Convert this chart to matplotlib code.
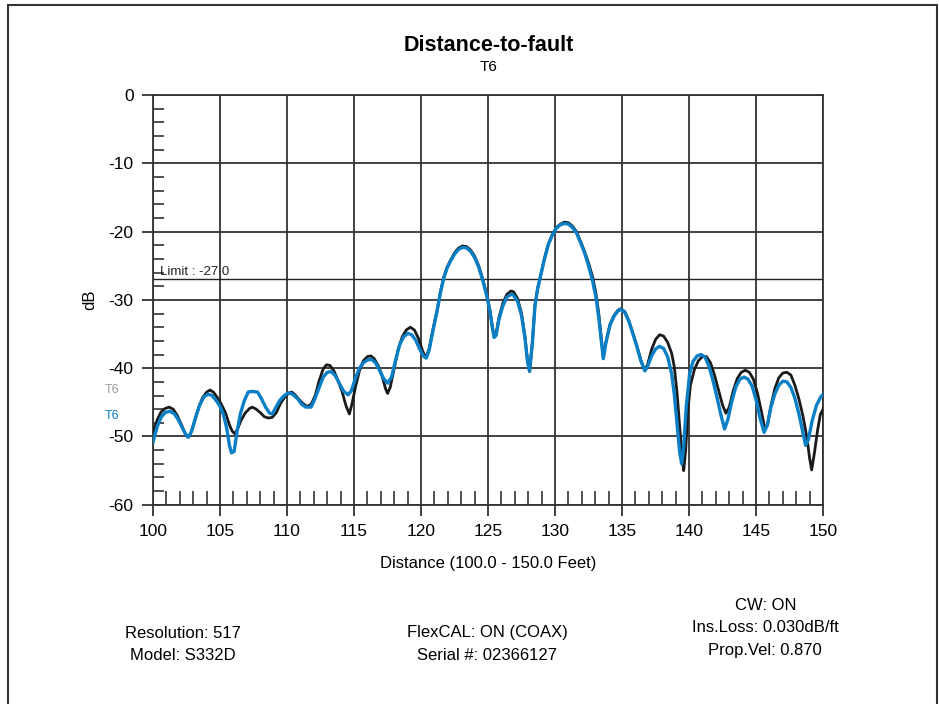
import matplotlib.pyplot as plt
from matplotlib.patches import Rectangle
from matplotlib.ticker import MultipleLocator

plt.rcParams['font.family'] = ['Liberation Sans', 'DejaVu Sans']
plt.rcParams['axes.unicode_minus'] = False

# distance (ft) / return loss (dB), black trace
dist_black = [100.0, 100.3, 100.6, 100.9, 101.2, 101.5, 101.8, 102.1, 102.4, 102.6,
              102.8, 103.1, 103.4, 103.7, 104.0, 104.25, 104.5, 104.8, 105.1, 105.4,
              105.7, 105.9, 106.1, 106.3, 106.6, 106.9, 107.2, 107.4, 107.7, 108.0,
              108.3, 108.6, 108.9, 109.2, 109.5, 109.8, 110.1, 110.35, 110.6, 110.9,
              111.2, 111.5, 111.8, 112.1, 112.4, 112.7, 112.95, 113.2, 113.5, 113.8,
              114.1, 114.4, 114.65, 114.85, 115.1, 115.4, 115.7, 116.0, 116.25, 116.5,
              116.8, 117.1, 117.35, 117.5, 117.7, 118.0, 118.3, 118.6, 118.9, 119.2,
              119.5, 119.8, 120.1, 120.35, 120.6, 120.9, 121.2, 121.45, 121.7, 121.95,
              122.2, 122.5, 122.8, 123.1, 123.4, 123.7, 124.0, 124.3, 124.6, 124.9,
              125.15, 125.3, 125.45, 125.6, 125.8, 126.1, 126.4, 126.7, 126.9, 127.2,
              127.5, 127.75, 127.95, 128.1, 128.3, 128.5, 128.7, 128.9, 129.2, 129.5,
              129.8, 130.1, 130.4, 130.7, 131.0, 131.3, 131.6, 131.9, 132.2, 132.5,
              132.8, 133.05, 133.25, 133.45, 133.6, 133.8, 134.1, 134.4, 134.7, 134.9,
              135.2, 135.5, 135.8, 136.1, 136.4, 136.7, 136.9, 137.2, 137.5, 137.8,
              138.1, 138.4, 138.7, 138.9, 139.1, 139.3, 139.5, 139.6, 139.75, 139.9,
              140.1, 140.4, 140.7, 141.0, 141.3, 141.6, 141.9, 142.2, 142.5, 142.75,
              143.0, 143.3, 143.6, 143.9, 144.2, 144.5, 144.8, 145.1, 145.4, 145.65,
              145.85, 146.1, 146.4, 146.7, 147.0, 147.3, 147.6, 147.9, 148.2, 148.5,
              148.8, 149.0, 149.15, 149.35, 149.6, 149.8, 150.0]
db_black = [-49.5, -47.6, -46.4, -45.9, -45.7, -46.0, -46.9, -48.2, -49.6, -50.1,
            -49.6, -47.8, -45.8, -44.3, -43.5, -43.2, -43.5, -44.3, -45.3, -46.5,
            -48.3, -49.2, -49.6, -48.9, -47.5, -46.5, -45.9, -45.7, -46.0, -46.5,
            -47.1, -47.3, -47.2, -46.5, -45.2, -44.3, -43.7, -43.5, -43.9, -44.6,
            -45.2, -45.6, -45.3, -44.0, -41.8, -40.1, -39.5, -39.6, -40.4, -41.8,
            -43.4, -45.5, -46.7, -45.2, -42.8, -40.4, -38.9, -38.3, -38.2, -38.6,
            -39.6, -41.2, -43.0, -43.7, -42.8, -40.0, -37.2, -35.4, -34.4, -34.0,
            -34.4, -35.6, -37.4, -38.5, -37.2, -34.2, -31.5, -28.8, -26.6, -25.2,
            -24.2, -23.1, -22.4, -22.1, -22.2, -22.7, -23.6, -25.0, -26.9, -29.2,
            -31.6, -33.7, -35.4, -35.0, -32.7, -30.5, -29.2, -28.7, -28.8, -29.8,
            -32.0, -35.3, -39.0, -40.5, -36.4, -30.8, -28.3, -26.6, -24.0, -21.8,
            -20.4, -19.4, -18.9, -18.6, -18.7, -19.2, -20.0, -21.4, -22.9, -24.6,
            -26.6, -29.0, -31.8, -35.5, -38.4, -36.2, -33.6, -32.3, -31.5, -31.3,
            -31.7, -33.0, -34.8, -36.7, -38.8, -40.3, -39.5, -37.3, -35.8, -35.1,
            -35.3, -36.2, -37.8, -39.8, -43.5, -48.5, -53.5, -55.0, -52.0, -46.5,
            -42.5, -40.2, -38.9, -38.3, -38.3, -39.2, -41.0, -43.2, -45.4, -46.6,
            -45.7, -43.3, -41.5, -40.6, -40.3, -40.6, -41.6, -43.6, -46.3, -48.8,
            -48.4, -45.6, -43.0, -41.4, -40.7, -40.6, -41.0, -42.5, -44.5, -47.0,
            -50.2, -53.2, -54.9, -52.5, -49.0, -46.8, -46.0]

# blue trace
dist_blue = [100.0, 100.3, 100.6, 100.9, 101.25, 101.6, 101.9, 102.2, 102.5, 102.65,
             102.9, 103.2, 103.5, 103.8, 104.1, 104.4, 104.7, 105.0, 105.25, 105.5,
             105.7, 105.85, 106.05, 106.25, 106.5, 106.8, 107.1, 107.4, 107.8, 108.1,
             108.4, 108.7, 108.9, 109.2, 109.5, 109.8, 110.1, 110.4, 110.8, 111.1,
             111.4, 111.8, 112.1, 112.4, 112.7, 113.0, 113.3, 113.6, 113.9, 114.2,
             114.55, 114.8, 115.1, 115.4, 115.7, 116.0, 116.3, 116.6, 116.9, 117.2,
             117.5, 117.8, 118.1, 118.4, 118.7, 119.0, 119.3, 119.6, 119.9, 120.2,
             120.4, 120.6, 120.9, 121.2, 121.45, 121.7, 121.95, 122.2, 122.5, 122.8,
             123.1, 123.4, 123.7, 124.0, 124.3, 124.6, 124.9, 125.15, 125.3, 125.45,
             125.6, 125.8, 126.1, 126.4, 126.7, 126.9, 127.2, 127.5, 127.75, 127.95,
             128.1, 128.3, 128.5, 128.7, 128.9, 129.2, 129.5, 129.8, 130.1, 130.4,
             130.7, 131.0, 131.3, 131.6, 131.9, 132.2, 132.5, 132.8, 133.05, 133.25,
             133.45, 133.6, 133.8, 134.1, 134.4, 134.7, 134.9, 135.2, 135.5, 135.8,
             136.1, 136.4, 136.7, 136.9, 137.2, 137.5, 137.8, 138.1, 138.4, 138.7,
             138.9, 139.1, 139.3, 139.45, 139.6, 139.8, 140.05, 140.3, 140.6, 140.9,
             141.2, 141.5, 141.8, 142.1, 142.4, 142.65, 142.9, 143.2, 143.5, 143.8,
             144.1, 144.4, 144.7, 145.0, 145.3, 145.6, 145.85, 146.1, 146.4, 146.7,
             147.0, 147.3, 147.6, 147.9, 148.2, 148.5, 148.7, 148.9, 149.2, 149.5,
             149.8, 150.0]
db_blue = [-50.8, -48.6, -47.2, -46.5, -46.3, -46.7, -47.6, -48.8, -49.9, -50.1,
           -49.1, -47.0, -45.3, -44.2, -43.8, -44.0, -44.7, -45.6, -46.8, -48.8,
           -51.3, -52.4, -52.2, -49.5, -46.8, -44.8, -43.5, -43.4, -43.5, -44.5,
           -45.7, -46.6, -46.7, -45.6, -44.6, -44.0, -43.6, -43.8, -44.5, -45.3,
           -45.7, -45.7, -44.4, -42.8, -41.3, -40.6, -40.5, -41.1, -42.2, -43.3,
           -43.9, -43.3, -41.5, -40.0, -39.2, -38.8, -38.7, -39.2, -40.3, -41.5,
           -42.2, -41.3, -38.8, -36.6, -35.4, -34.9, -35.1, -35.9, -37.2, -38.3,
           -38.5, -37.4, -34.4, -31.6, -28.9, -26.8, -25.3, -24.3, -23.3, -22.6,
           -22.3, -22.4, -22.9, -23.8, -25.2, -27.1, -29.4, -31.7, -33.8, -35.5,
           -35.2, -33.0, -30.9, -29.6, -29.2, -29.3, -30.2, -32.3, -35.5, -39.1,
           -40.4, -36.5, -30.9, -28.4, -26.7, -24.1, -21.9, -20.5, -19.5, -19.0,
           -18.8, -18.9, -19.4, -20.2, -21.6, -23.1, -25.0, -27.2, -29.6, -32.4,
           -36.0, -38.6, -36.2, -33.7, -32.4, -31.6, -31.4, -31.8, -33.1, -34.9,
           -36.8, -38.9, -40.4, -39.8, -38.2, -37.2, -36.8, -37.1, -38.3, -40.8,
           -43.8, -48.0, -52.3, -54.0, -51.5, -45.5, -40.7, -39.0, -38.2, -38.0,
           -38.4, -39.8, -41.9, -44.4, -47.0, -48.9, -47.5, -44.8, -42.7, -41.6,
           -41.3, -41.6, -42.6, -44.6, -47.3, -49.4, -48.3, -45.8, -43.8, -42.5,
           -41.9, -42.0, -42.8, -44.4, -46.7, -49.5, -51.3, -50.5, -47.6, -45.5,
           -44.3, -43.8]

limit_db = -27.0
trace_name = 'T6'
blue = '#0a7fc6'
grid_col = '#333333'

fig = plt.figure(figsize=(9.39, 7.04), dpi=100)
ax = fig.add_axes([0.163, 0.283, 0.7135, 0.582])

ax.plot(dist_black, db_black, color='#1a1a1a', lw=2.0, zorder=3)
ax.plot(dist_blue, db_blue, color=blue, lw=2.4, zorder=4)
ax.axhline(limit_db, color='#222222', lw=1.0, zorder=2)
ax.text(100.55, limit_db + 1.1, 'Limit : %.1f' % limit_db, fontsize=9.5,
        va='center', ha='left', color='#222222')

ax.set_xlim(100, 150)
ax.set_ylim(-60, 0)
ax.xaxis.set_major_locator(MultipleLocator(5))
ax.xaxis.set_minor_locator(MultipleLocator(1))
ax.yaxis.set_major_locator(MultipleLocator(10))
ax.yaxis.set_minor_locator(MultipleLocator(2))
ax.grid(True, which='major', color=grid_col, lw=1.3)
ax.tick_params(which='major', direction='out', length=8, width=1.3,
               color=grid_col, labelsize=12.5, pad=6)
ax.tick_params(axis='y', which='minor', direction='in', length=8, width=1.2,
               color=grid_col)
ax.tick_params(axis='x', which='minor', direction='in', length=10, width=1.2,
               color=grid_col)
for s in ax.spines.values():
    s.set_color(grid_col)
    s.set_linewidth(1.3)

ax.set_xlabel('Distance (100.0 - 150.0 Feet)', fontsize=12, labelpad=12)
ax.set_ylabel('dB', fontsize=12, labelpad=8)

fig.text(0.52, 0.935, 'Distance-to-fault', fontsize=15.5, fontweight='bold',
         ha='center', va='center')
fig.text(0.52, 0.905, trace_name, fontsize=11, ha='center', va='center')

fig.text(0.112, 1 - 390 / 704, trace_name, fontsize=9, color='#9a9a9a',
         ha='left', va='center')
fig.text(0.112, 1 - 416 / 704, trace_name, fontsize=9, color=blue,
         ha='left', va='center')

fig.text(0.195, 1 - 633 / 704, 'Resolution: 517', fontsize=12, ha='center', va='center')
fig.text(0.195, 1 - 656 / 704, 'Model: S332D', fontsize=12, ha='center', va='center')
fig.text(0.519, 1 - 633 / 704, 'FlexCAL: ON (COAX)', fontsize=12, ha='center', va='center')
fig.text(0.519, 1 - 656 / 704, 'Serial #: 02366127', fontsize=12, ha='center', va='center')
fig.text(0.815, 1 - 605 / 704, 'CW: ON', fontsize=12, ha='center', va='center')
fig.text(0.815, 1 - 628 / 704, 'Ins.Loss: 0.030dB/ft', fontsize=12, ha='center', va='center')
fig.text(0.815, 1 - 651 / 704, 'Prop.Vel: 0.870', fontsize=12, ha='center', va='center')

# outer frame
fig.patches.append(Rectangle((8 / 939, -0.02), 929 / 939, 1.02 - 5 / 704,
                             transform=fig.transFigure, fill=False,
                             edgecolor='#333333', lw=1.5))

fig.savefig('out.png', dpi=100)
